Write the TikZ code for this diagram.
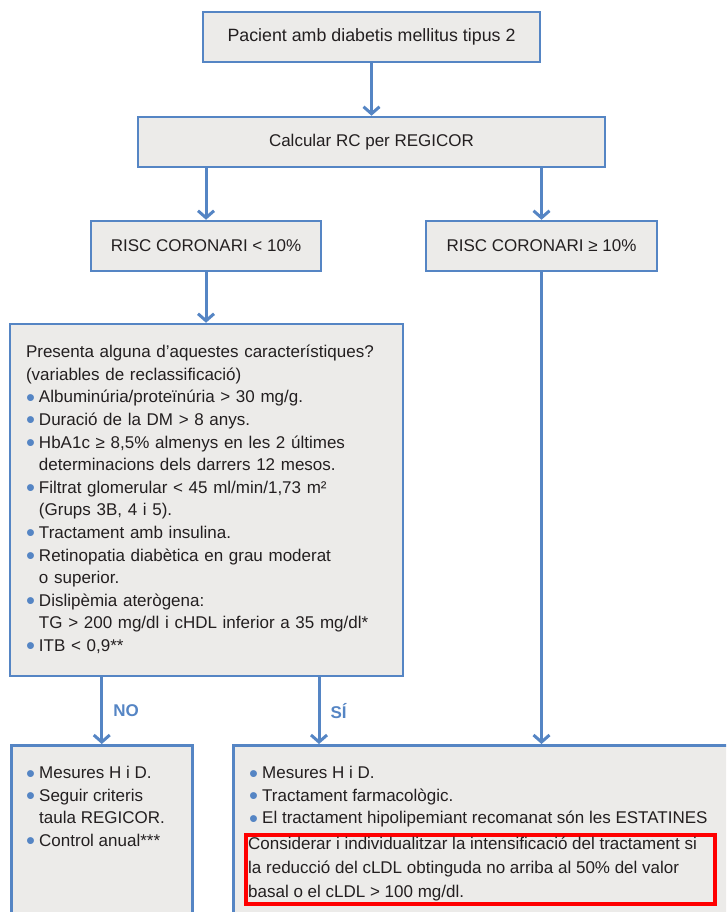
\documentclass[tikz,border=0pt]{standalone}
\usepackage{fontspec}
\setmainfont{Liberation Sans}
\usetikzlibrary{arrows.meta,positioning}
\definecolor{flowblue}{RGB}{85,133,196}
\definecolor{boxgray}{RGB}{236,235,233}
\definecolor{inkgray}{RGB}{35,31,32}
\newcommand{\itm}{\makebox[13pt][l]{\smash{\textcolor{flowblue}{\raisebox{-0.2em}{\scalebox{1.5}{•}}}}}}
\newcommand{\cnt}{\hspace*{13pt}}

\begin{document}
\begin{tikzpicture}[x=1pt,y=-1pt,
    box/.style={draw=flowblue,line width=2.5pt,fill=boxgray,inner sep=0pt,text=inkgray,font=\fontsize{17}{22.6}\selectfont},
    txt/.style={inner sep=0pt,align=left,text=inkgray,font=\fontsize{17}{22.5}\selectfont},
    flow/.style={flowblue,line width=3pt,-{Straight Barb[length=7pt,width=16pt]}},
    lbl/.style={inner sep=0pt,font=\fontsize{17}{20}\selectfont\bfseries,text=flowblue}]
\useasboundingbox (0,0) rectangle (726,912);
\clip (0,0) rectangle (726,912);
%draw boxes
    \node[box,minimum width=337pt,minimum height=50pt,font=\fontsize{17.8}{20}\selectfont] (pat) at (371.5,37) {Pacient amb diabetis mellitus tipus 2};
    \node[box,minimum width=467pt,minimum height=50pt] (calc) at (371.5,142) {Calcular RC per REGICOR};
    \node[box,minimum width=230pt,minimum height=50pt] (riscL) at (206,246) {RISC CORONARI < 10\%};
    \node[box,minimum width=231pt,minimum height=50pt] (riscR) at (541.5,246) {RISC CORONARI ≥ 10\%};
    \node[box,minimum width=393pt,minimum height=352pt,text width=361pt,inner xsep=16pt,align=left] (crit) at (206.5,500)
        {\strut Presenta alguna d’aquestes característiques?\\
         (variables de reclassificació)\\
         \itm Albuminúria/proteïnúria > 30 mg/g.\\
         \itm Duració de la DM > 8 anys.\\
         \itm HbA1c ≥ 8,5\% almenys en les 2 últimes\\
         \cnt determinacions dels darrers 12 mesos.\\
         \itm Filtrat glomerular < 45 ml/min/1,73 m²\\
         \cnt (Grups 3B, 4 i 5).\\
         \itm Tractament amb insulina.\\
         \itm Retinopatia diabètica en grau moderat\\
         \cnt o superior.\\
         \itm Dislipèmia aterògena:\\
         \cnt TG > 200 mg/dl i cHDL inferior a 35 mg/dl*\\
         \itm ITB < 0,9**\strut};
    \node[box,minimum width=181pt,minimum height=200pt,anchor=north west] (botL) at (10,744) {};
    \node[box,minimum width=530pt,minimum height=200pt,anchor=north west] (botR) at (232,744) {};
    \node[draw=red,line width=4pt,minimum width=469pt,minimum height=69pt,inner sep=0pt,anchor=north west] (note) at (244,833) {};
%insert box texts
    \node[txt,anchor=north west] (botLtxt) at (26,763)
        {\strut\itm Mesures H i D.\\
         \itm Seguir criteris\\
         \cnt taula REGICOR.\\
         \itm Control anual***};
    \node[txt,anchor=north west] (botRtxt) at (249,763)
        {\strut\itm Mesures H i D.\\
         \itm Tractament farmacològic.\\
         \itm El tractament hipolipemiant recomanat són les ESTATINES};
    \node[txt,anchor=north west,font=\fontsize{17}{24}\selectfont] (notetxt) at (248,832)
        {\strut Considerar i individualitzar la intensificació del tractament si\\
         la reducció del cLDL obtinguda no arriba al 50\% del valor\\
         basal o el cLDL > 100 mg/dl.};
%draw directed edges
    \draw[flow] (pat.south) -- (pat.south |- calc.north);
    \draw[flow] (calc.south -| riscL) -- (riscL.north);
    \draw[flow] (calc.south -| riscR) -- (riscR.north);
    \draw[flow] (riscL.south) -- (riscL.south |- crit.north);
    \draw[flow] (riscR.south) -- (riscR.south |- botR.north);
    \draw[flow] (crit.south -| botL) -- node[lbl,right=10pt] (no) {NO} (botL.north);
    \draw[flow] ([xshift=112.5pt]crit.south) -- node[lbl,right=10pt] (si) {SÍ} ([xshift=112.5pt]crit.south |- botR.north);
\end{tikzpicture}
\end{document}
